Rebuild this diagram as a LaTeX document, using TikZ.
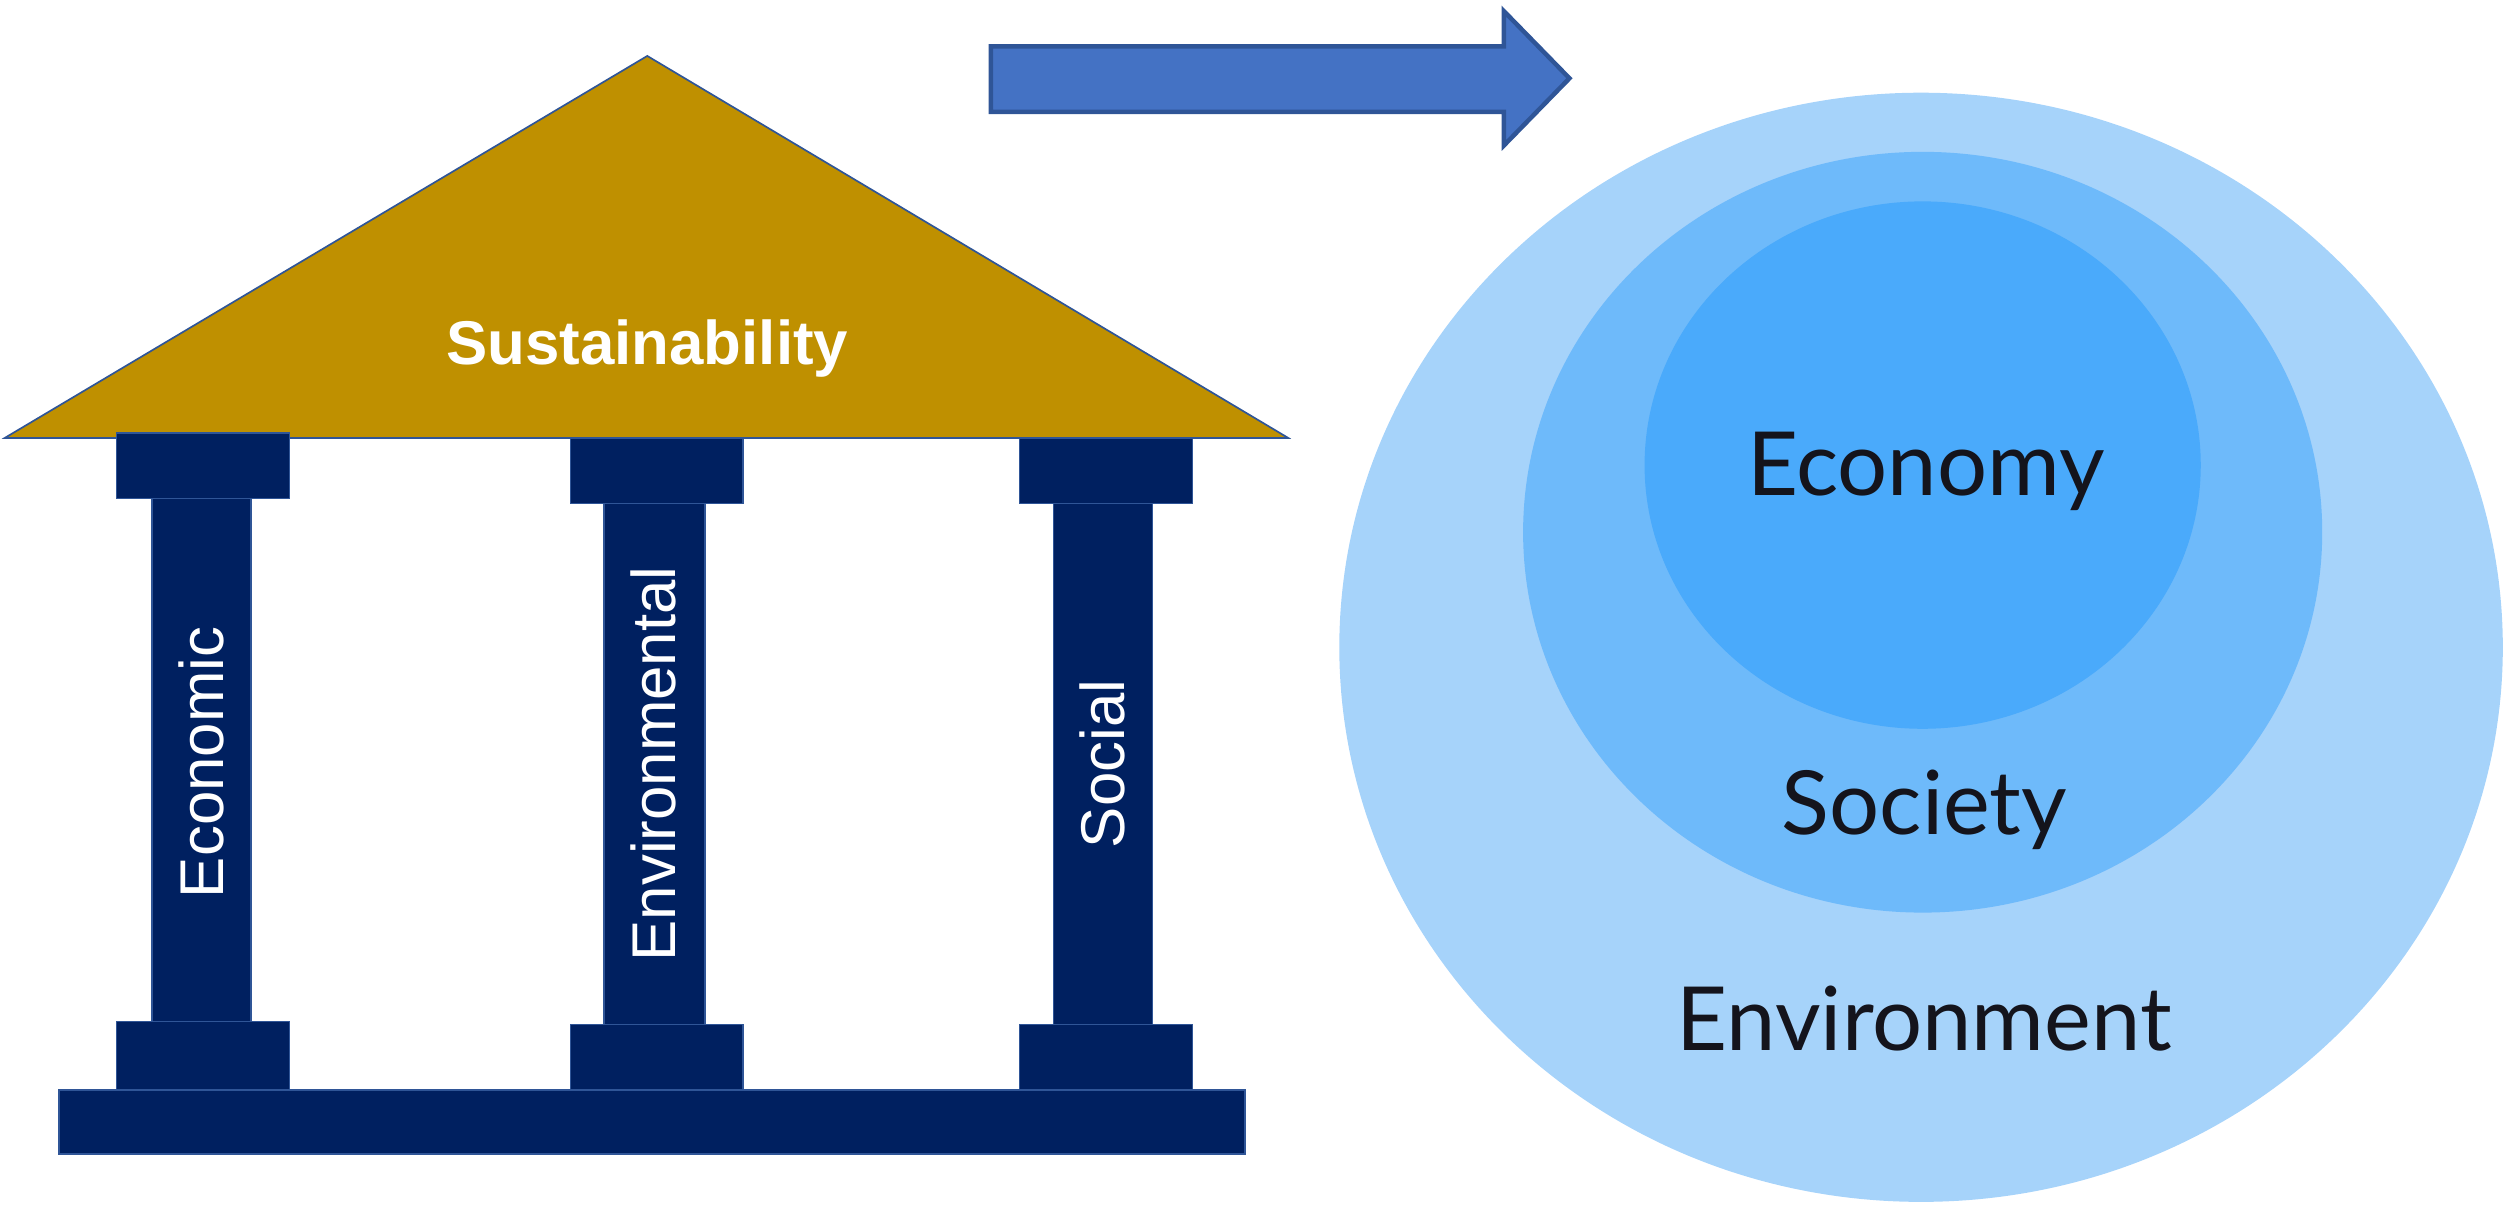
\documentclass[tikz,border=0pt]{standalone}
\usepackage{fontspec}
\setmainfont{Liberation Sans}
\newfontfamily\ringfont{Lato}
\usetikzlibrary{positioning}
\definecolor{roofgold}{RGB}{191,144,0}
\definecolor{navy}{RGB}{0,32,96}
\definecolor{edgeblue}{RGB}{47,85,151}
\definecolor{arrowblue}{RGB}{68,114,196}
\definecolor{envblue}{RGB}{166,211,250}
\definecolor{socblue}{RGB}{110,186,250}
\definecolor{ecoblue}{RGB}{74,170,251}
\definecolor{inkblack}{RGB}{20,20,28}
\tikzset{>=latex,
  pillar/.style={fill=navy, draw=edgeblue, line width=0.5pt},
  pillartext/.style={text=white, rotate=90, font=\fontsize{22}{26}\selectfont},
  ringtext/.style={text=inkblack, anchor=base, font=\ringfont\fontsize{31.5}{36}\selectfont}}

\begin{document}
\begin{tikzpicture}[x=0.2mm, y=-0.2mm]
      \useasboundingbox (0,0) rectangle (1568,754);
      % roof
      \filldraw[fill=roofgold, draw=edgeblue, line width=0.6pt] (3,274) -- (405,35) -- (806,274) -- cycle;
      \node[text=white, anchor=base, font=\bfseries\fontsize{22}{26}\selectfont] (sust) at (405,228) {Sustainability};
      % base and pillars
      \filldraw[pillar] (37,682) rectangle (779,722);
      \filldraw[pillar] (73,271) rectangle (181,312);
      \filldraw[pillar] (357,274) rectangle (465,315);
      \filldraw[pillar] (638,274) rectangle (746,315);
      \filldraw[pillar] (73,639) rectangle (181,682);
      \filldraw[pillar] (357,641) rectangle (465,682);
      \filldraw[pillar] (638,641) rectangle (746,682);
      \filldraw[pillar] (95,312) rectangle (157,639);
      \filldraw[pillar] (378,315) rectangle (441,641);
      \filldraw[pillar] (659,315) rectangle (721,641);
      \node[pillartext] (econ) at (126,477) {Economic};
      \node[pillartext] (envir) at (409,478) {Environmental};
      \node[pillartext] (soc) at (690,478) {Social};
      % arrow
      \filldraw[fill=arrowblue, draw=edgeblue, line width=1.6pt] (620,29) -- (941,29) -- (941,7) -- (982,49) -- (941,91) -- (941,70) -- (620,70) -- cycle;
      % rings
      \fill[envblue] (1202,405) ellipse [x radius=364, y radius=347];
      \fill[socblue] (1203,333) ellipse [x radius=250, y radius=238];
      \fill[ecoblue] (1203,291) ellipse [x radius=174, y radius=165];
      \node[ringtext] (economy) at (1205,310) {Economy};
      \node[ringtext] (society) at (1204,522) {Society};
      \node[ringtext] (environment) at (1204,657) {Environment};
    \end{tikzpicture}
\end{document}
